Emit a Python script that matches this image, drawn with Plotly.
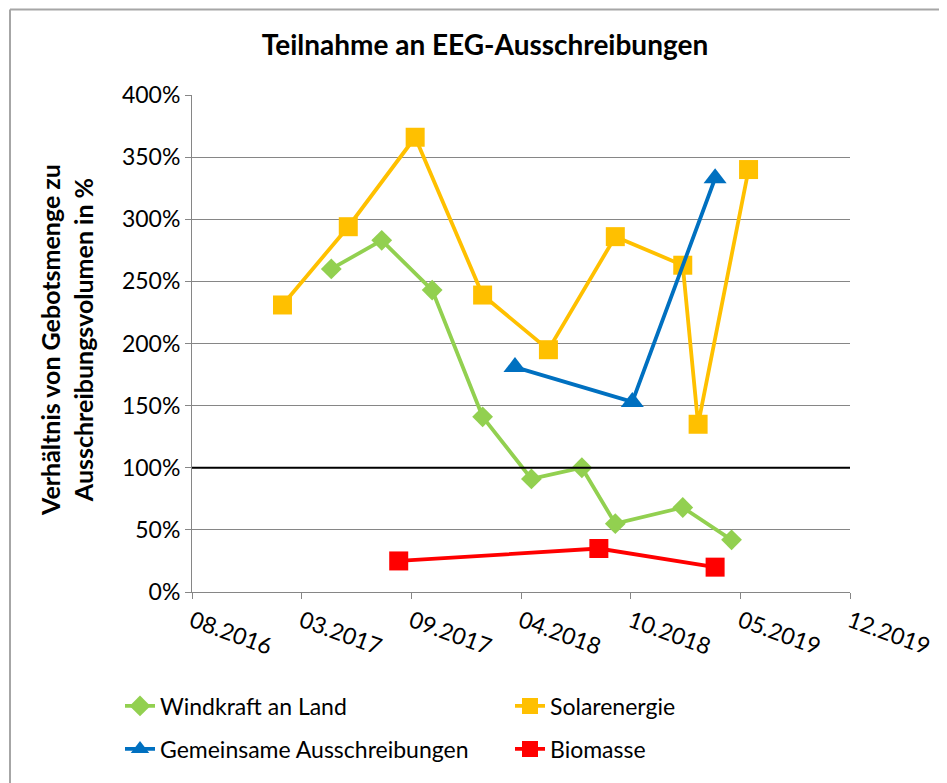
import plotly.graph_objects as go

# ---------------- data ----------------
wind_dates = ["2017-05-01", "2017-08-01", "2017-11-01", "2018-02-01", "2018-05-01",
              "2018-08-01", "2018-10-01", "2019-02-01", "2019-05-01"]
wind_vals = [260, 283, 243, 141, 91, 100, 55, 68, 42]

solar_dates = ["2017-02-01", "2017-06-01", "2017-10-01", "2018-02-01", "2018-06-01",
               "2018-10-01", "2019-02-01", "2019-03-01", "2019-06-01"]
solar_vals = [231, 294, 366, 239, 195, 286, 263, 135, 340]

joint_dates = ["2018-04-01", "2018-11-01", "2019-04-01"]
joint_vals = [181, 153, 333]

bio_dates = ["2017-09-01", "2018-09-01", "2019-04-01"]
bio_vals = [25, 35, 20]

x_tickvals = ["2016-08-20", "2017-03-08", "2017-09-24", "2018-04-12",
              "2018-10-29", "2019-05-17", "2019-12-03"]
x_ticktext = ["08.2016", "03.2017", "09.2017", "04.2018", "10.2018", "05.2019", "12.2019"]
y_tickvals = [0, 50, 100, 150, 200, 250, 300, 350, 400]
y_ticktext = [f"{v}%" for v in y_tickvals]
reference_level = 100

FONT = "Lato, 'Noto Sans', sans-serif"
GREEN, YELLOW, BLUE, RED = "#92D050", "#FFC000", "#0070C0", "#FF0000"

fig = go.Figure()
fig.add_trace(go.Scatter(x=wind_dates, y=wind_vals, name="Windkraft an Land", mode="lines+markers",
                         line=dict(color=GREEN, width=3.8),
                         marker=dict(symbol="diamond", size=16, color=GREEN), legend="legend"))
fig.add_trace(go.Scatter(x=solar_dates, y=solar_vals, name="Solarenergie", mode="lines+markers",
                         line=dict(color=YELLOW, width=3.8),
                         marker=dict(symbol="square", size=19, color=YELLOW), legend="legend"))
fig.add_trace(go.Scatter(x=joint_dates, y=joint_vals, name="Gemeinsame Ausschreibungen", mode="lines+markers",
                         line=dict(color=BLUE, width=3.8),
                         marker=dict(symbol="triangle-up", size=20, color=BLUE), legend="legend2"))
fig.add_trace(go.Scatter(x=bio_dates, y=bio_vals, name="Biomasse", mode="lines+markers",
                         line=dict(color=RED, width=3.8),
                         marker=dict(symbol="square", size=19, color=RED), legend="legend2"))

# page body has an 8px margin; work in screen pixels and convert
OFF = 8
SW, SH = 947, 783
W, H = SW - OFF, SH - OFF
L, R, T, B = 192 - OFF, 97, 95 - OFF, 191
pw, ph = W - L - R, H - T - B

def px_x(px):
    return (px - OFF - L) / pw

def px_y(py):
    return (H - B - (py - OFF)) / ph

legend_common = dict(orientation="h", font=dict(family=FONT, size=23, color="#000000"),
                     entrywidth=345, entrywidthmode="pixels", bgcolor="rgba(0,0,0,0)",
                     xanchor="left", yanchor="middle", itemwidth=30, traceorder="normal")

fig.update_layout(
    width=W, height=H,
    margin=dict(l=L, r=R, t=T, b=B),
    paper_bgcolor="white", plot_bgcolor="white",
    font=dict(family=FONT, size=22, color="#000000"),
    title=dict(text="<b>Teilnahme an EEG-Ausschreibungen</b>", x=(485 - OFF) / W, xanchor="center",
               y=1 - (45 - OFF) / H, yanchor="middle", font=dict(family=FONT, size=28, color="#000000")),
    showlegend=True,
    legend=dict(x=px_x(120), y=px_y(706), **legend_common),
    legend2=dict(x=px_x(120), y=px_y(749), **legend_common),
    xaxis=dict(type="date", range=[x_tickvals[0], x_tickvals[-1]], tickmode="array",
               tickvals=x_tickvals, ticktext=x_ticktext, tickangle=20,
               showgrid=False, showline=True, linecolor="#868686", linewidth=1,
               ticks="outside", ticklen=6, tickcolor="#868686", zeroline=False,
               tickfont=dict(family=FONT, size=23, color="#000000")),
    yaxis=dict(range=[0, 400], tickmode="array", tickvals=y_tickvals, ticktext=y_ticktext,
               showgrid=True, gridcolor="#868686", gridwidth=1,
               showline=True, linecolor="#868686", linewidth=1,
               ticks="outside", ticklen=6, tickcolor="#868686", zeroline=False,
               tickfont=dict(family=FONT, size=23, color="#000000")),
    shapes=[
        dict(type="line", xref="paper", yref="y", x0=0, x1=1, y0=reference_level, y1=reference_level,
             line=dict(color="#000000", width=2), layer="above"),
        dict(type="line", xref="paper", yref="paper", x0=px_x(10), x1=px_x(960), y0=px_y(9.5), y1=px_y(9.5),
             line=dict(color="#A6A6A6", width=2)),
        dict(type="line", xref="paper", yref="paper", x0=px_x(10), x1=px_x(10), y0=px_y(9.5), y1=px_y(790),
             line=dict(color="#A6A6A6", width=2)),
    ],
    annotations=[
        dict(text="<b>Verhältnis von Gebotsmenge zu<br>Ausschreibungsvolumen in %</b>",
             xref="paper", yref="paper", x=px_x(66), y=px_y(340), textangle=-90,
             showarrow=False, xanchor="center", yanchor="middle",
             font=dict(family=FONT, size=25, color="#000000"))
    ],
)

fig.write_html("out.html")
